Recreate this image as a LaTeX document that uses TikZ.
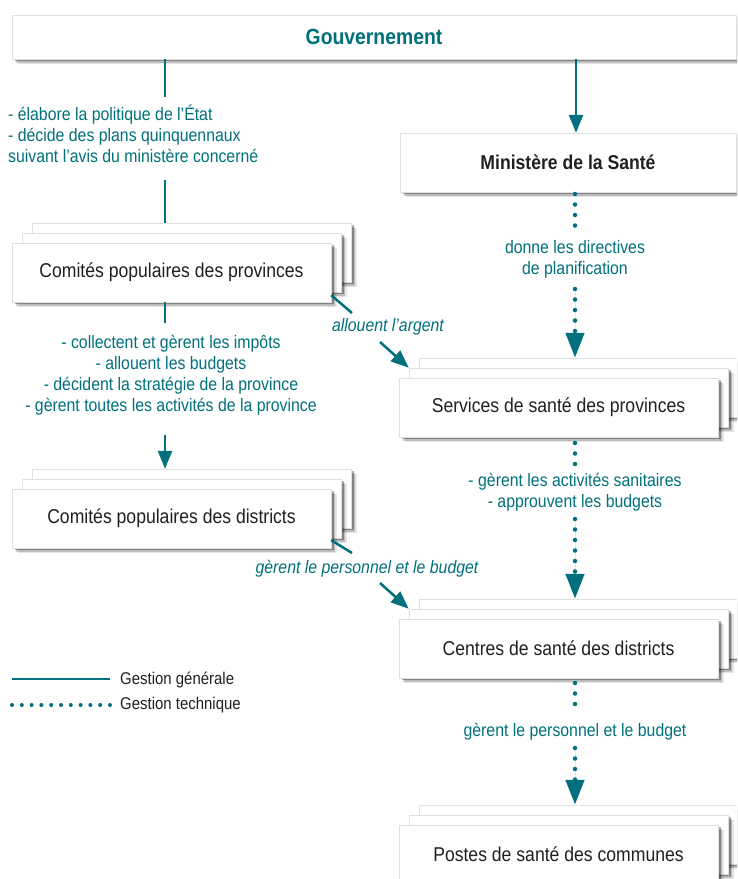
\documentclass[tikz,border=0pt]{standalone}
\usepackage{fontspec}
\setmainfont{Liberation Sans}[FakeStretch=0.88]
\usetikzlibrary{arrows.meta,shadows}
\definecolor{teal1}{RGB}{0,112,124}
\definecolor{dark}{RGB}{35,31,32}
\tikzset{
  box/.style={draw=black!12, line width=0.4pt, fill=white,
    drop shadow={shadow xshift=5.5pt, shadow yshift=-5pt, opacity=0.10, fill=black},
    drop shadow={shadow xshift=4pt, shadow yshift=-3.5pt, opacity=0.18, fill=black},
    drop shadow={shadow xshift=2.5pt, shadow yshift=-2.2pt, opacity=0.30, fill=black},
    minimum width=319pt, minimum height=59pt, inner sep=0pt, text=dark,
    font=\fontsize{20}{24}\selectfont},
  lbl/.style={text=teal1, font=\fontsize{18}{21}\selectfont, inner sep=0pt, align=center},
  ilbl/.style={lbl, font=\fontsize{18}{21}\selectfont\itshape},
  leg/.style={text=dark, font=\fontsize{17}{20}\selectfont, inner sep=0pt, anchor=west},
  gen/.style={draw=teal1, line width=2.5pt},
  tech/.style={draw=teal1, line width=4.5pt, line cap=round, dash pattern=on 0pt off 10.5pt},
  sarrow/.style={-{Triangle[width=14pt,length=18pt]}, fill=teal1},
  darrow/.style={-{Triangle[width=18pt,length=25pt]}, fill=teal1},
}
\newcommand\mystack[4]{%
  \node[box] (#1c) at (#2+20,#3-20) {};
  \node[box] (#1b) at (#2+10,#3-10) {};
  \node[box] (#1) at (#2,#3) {#4};}
\begin{document}
\begin{tikzpicture}[x=1pt,y=-1pt]
\useasboundingbox (0,0) rectangle (737,879);
\clip (0,0) rectangle (737,879);

% boxes
\node[box, minimum width=724pt, minimum height=44pt, text=teal1,
  font=\fontsize{22}{26}\selectfont\bfseries] (gov) at (374,37) {Gouvernement};
\node[box, minimum width=336pt, font=\fontsize{20}{24}\selectfont\bfseries] (min) at (568,162.5) {Ministère de la Santé};
\mystack{prov}{171.5}{272.5}{Comités populaires des provinces}
\mystack{dist}{171.5}{518.5}{Comités populaires des districts}
\mystack{serv}{558.5}{407.5}{Services de santé des provinces}
\mystack{cent}{558.5}{648.5}{Centres de santé des districts}
\mystack{post}{558.5}{854.5}{Postes de santé des communes}

% general management (left)
\coordinate (a1) at (165,97);
\coordinate (a2) at (165,180);
\draw[gen] (gov.south -| a1) -- (a1);
\draw[gen] (a2) -- (provc.north -| a2);
\node[lbl, align=left, anchor=west] (t1) at (8,134)
  {- élabore la politique de l’État\\- décide des plans quinquennaux\\suivant l’avis du ministère concerné};

\coordinate (a3) at (165,323);
\coordinate (a4) at (165,435);
\draw[gen] (prov.south -| a3) -- (a3);
\node[lbl] (t2) at (171,375)
  {- collectent et gèrent les impôts\\- allouent les budgets\\- décident la stratégie de la province\\- gèrent toutes les activités de la province};
\draw[gen, sarrow] (a4) -- (distc.north -| a4);

% government to ministry
\coordinate (b1) at (576,0);
\draw[gen, sarrow] (gov.south -| b1) -- (min.north -| b1);

% diagonals
\coordinate (d1) at (352,313);
\coordinate (d2) at (380,342);
\draw[gen] ([yshift=7pt]prov.south east) -- (d1);
\node[ilbl] (t3) at (388,327) {allouent l’argent};
\draw[gen, sarrow] (d2) -- (servb.north west);

\coordinate (f1) at (352,553);
\coordinate (f2) at (380,583);
\draw[gen] ([yshift=8pt]dist.south east) -- (f1);
\node[ilbl] (t4) at (367,569) {gèrent le personnel et le budget};
\draw[gen, sarrow] (f2) -- (centb.north west);

% technical management (right)
\coordinate (c0) at (575,194);
\coordinate (c1) at (575,233);
\coordinate (c2) at (575,289);
\draw[tech] (c0) -- (c1);
\node[lbl] (t5) at (575,259) {donne les directives\\de planification};
\draw[tech, darrow] (c2) -- (servc.north -| c2);

\coordinate (e0) at (575,443);
\coordinate (e1) at (575,464);
\coordinate (e2) at (575,519);
\draw[tech] (e0) -- (e1);
\node[lbl] (t6) at (575,492) {- gèrent les activités sanitaires\\- approuvent les budgets};
\draw[tech, darrow] (e2) -- (centc.north -| e2);

\coordinate (g0) at (575,683);
\coordinate (g1) at (575,713);
\coordinate (g2) at (575,748);
\draw[tech] (g0) -- (g1);
\node[lbl] (t7) at (575,732) {gèrent le personnel et le budget};
\draw[tech, darrow] (g2) -- (postc.north -| g2);

% legend
\coordinate (l1a) at (12,679);
\coordinate (l1b) at (110,679);
\coordinate (l2a) at (12,705);
\coordinate (l2b) at (110,705);
\draw[gen] (l1a) -- (l1b);
\draw[tech, line width=4pt, dash pattern=on 0pt off 9.8pt] (l2a) -- (l2b);
\node[leg] (lg1) at (120,680) {Gestion générale};
\node[leg] (lg2) at (120,705) {Gestion technique};
\end{tikzpicture}
\end{document}
